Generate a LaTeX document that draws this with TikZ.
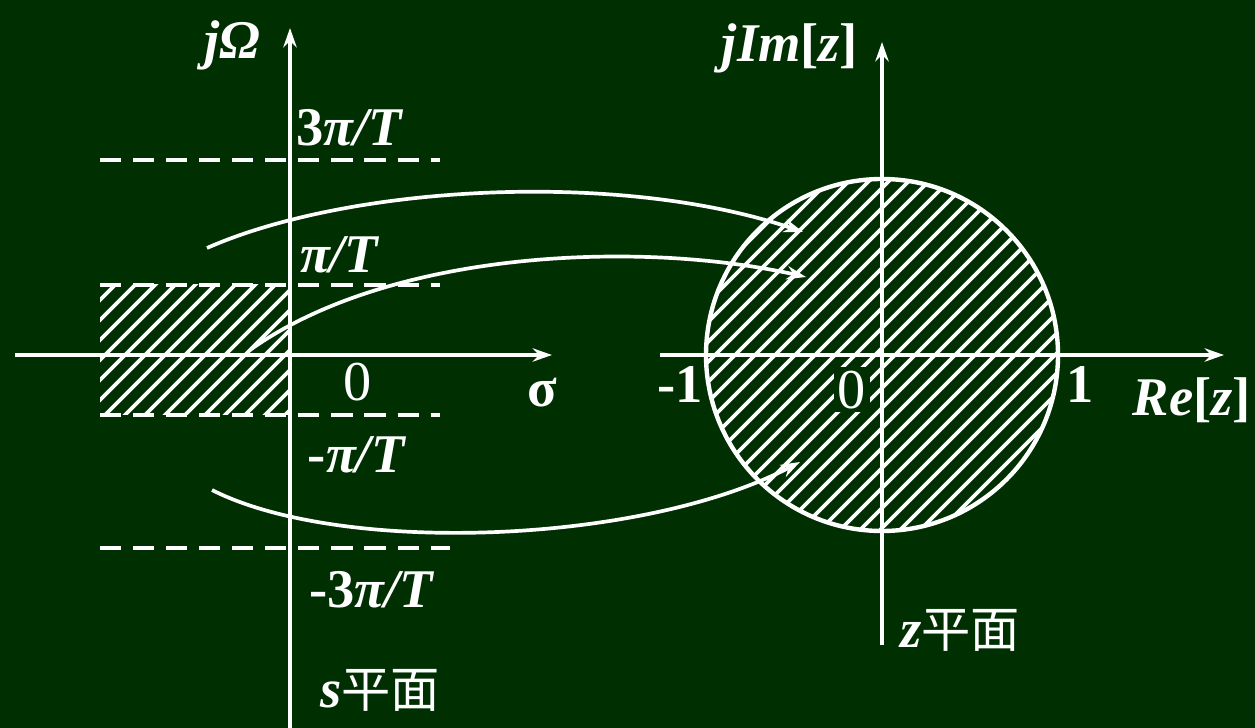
\documentclass[tikz,border=0pt]{standalone}
\usepackage{fontspec}
\setmainfont{Liberation Serif}
\newfontfamily\cjk{Noto Sans CJK SC}
\usetikzlibrary{arrows.meta}
\definecolor{board}{RGB}{0,48,2}

\begin{document}
\begin{tikzpicture}[x=0.01cm, y=-0.01cm, white, line width=1.1pt, >={Stealth[length=5.5pt, width=3.8pt]},
    lbl/.style={text=white, inner sep=1pt, font=\fontsize{15.5}{18}\selectfont\bfseries},
    num/.style={text=white, inner sep=1pt, font=\fontsize{16}{19}\selectfont},
    strip/.style={line width=1.1pt, dash pattern=on 6pt off 3.4pt},
    hatch/.style={line width=1.05pt},
    maparrow/.style={->, line width=1.05pt}]
    \fill[board] (0,0) rectangle (1255,728);
    \useasboundingbox (0,0) rectangle (1255,728);

    % s-plane: shaded strip
    \begin{scope}
        \clip (100,285) rectangle (290,415);
        \foreach \c in {380,400,...,720}
            \draw[hatch] (\c-450,450) -- (\c-250,250);
    \end{scope}
    \draw[strip] (100,160) -- (440,160);
    \draw[strip] (100,285) -- (440,285);
    \draw[strip] (100,415) -- (440,415);
    \draw[strip] (100,548) -- (450,548);
    \draw[->] (15,355) -- (552,355);
    \draw[->] (290,728) -- (290,28);

    % z-plane: unit disc
    \begin{scope}
        \clip (882,355) circle [radius=176];
        \foreach \c in {970,990,...,1510}
            \draw[hatch] (\c-600,600) -- (\c-100,100);
    \end{scope}
    \draw[line width=1.25pt] (882,355) circle [radius=176];
    \draw[->] (660,355) -- (1224,355);
    \draw[->] (882,645) -- (882,42);

    % labels
    \node[lbl] (jomega) at (232,45) {\textit{jΩ}};
    \node[lbl] (p3) at (350,128) {3\textit{π/T}};
    \node[lbl] (p1) at (340,255) {\textit{π/T}};
    \node[num] (s0) at (358,382) {0};
    \node[lbl] (sigma) at (542,393) {σ};
    \node[lbl] (m1) at (357,455) {-\textit{π/T}};
    \node[lbl] (m3) at (372,590) {-3\textit{π/T}};
    \node[lbl] (splane) at (380,690) {\textit{s}{\cjk\mdseries\fontsize{14}{17}\selectfont 平面}};
    \node[lbl] (jim) at (790,48) {\textit{jIm}[\textit{z}]};
    \node[lbl] (zm1) at (680,385) {-1};
    \node[num, fill=board] (z0) at (852,390) {0};
    \node[lbl] (zp1) at (1080,385) {1};
    \node[lbl] (rez) at (1192,400) {\textit{Re}[\textit{z}]};
    \node[lbl] (zplane) at (960,630) {\textit{z}{\cjk\mdseries\fontsize{14}{17}\selectfont 平面}};

    % mapping arrows
    \coordinate (a1) at (207,248);
    \coordinate (b1) at (803,232);
    \coordinate (a2) at (250,350);
    \coordinate (b2) at (806,277);
    \coordinate (a3) at (212,490);
    \coordinate (b3) at (800,462);
    \draw[maparrow] (a1) .. controls (350,185) and (620,170) .. (b1);
    \draw[maparrow] (a2) .. controls (390,250) and (640,240) .. (b2);
    \draw[maparrow] (a3) .. controls (340,555) and (640,545) .. (b3);
\end{tikzpicture}
\end{document}
